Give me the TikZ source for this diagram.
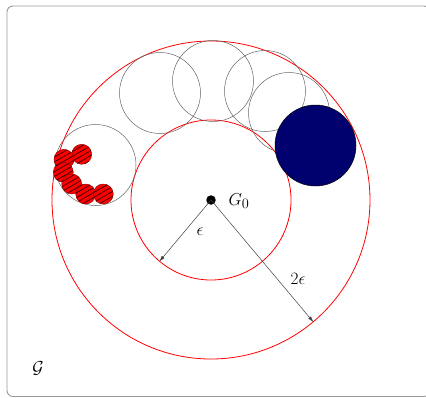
\documentclass[tikz,border=0pt]{standalone}
\usetikzlibrary{arrows.meta,patterns.meta}
\begin{document}
\begin{tikzpicture}[x=1pt,y=-1pt,
  frame/.style={draw=black!40, line width=0.9pt, rounded corners=6pt},
  redring/.style={circle, draw=red, line width=0.8pt, inner sep=0pt},
  graycirc/.style={circle, draw=black!60, line width=0.5pt, inner sep=0pt, minimum size=81pt},
  bluecirc/.style={circle, draw=black, fill={rgb,255:red,0;green,0;blue,110}, line width=0.5pt, inner sep=0pt, minimum size=81pt},
  redball/.style={circle, draw=red!50!black, line width=0.4pt, fill=red, inner sep=0pt, minimum size=20pt,
     postaction={pattern={Lines[angle=30,distance=4.2pt,line width=0.8pt]}, pattern color=black!75!red}},
  dot/.style={circle, fill=black, inner sep=0pt, minimum size=9.5pt},
  radius arrow/.style={draw=black!75, line width=0.5pt, -{Latex[length=6pt,width=3.5pt]}},
  lab/.style={inner sep=0pt, font=\fontsize{19}{22}\selectfont}]
\useasboundingbox (0,0) rectangle (426,397);
\clip (0,0) rectangle (426,397);
\draw[frame] (7,6) rectangle (430,396.5);
% rings
\node[redring, minimum size=318pt] (outer) at (211,200) {};
\node[redring, minimum size=160pt] (inner) at (211,200) {};
% gray circles
\node[graycirc] (c1) at (95.5,165) {};
\node[graycirc] (c2) at (160,93) {};
\node[graycirc] (c3) at (213,81) {};
\node[graycirc] (c4) at (265,91) {};
\node[graycirc] (c5) at (289,113) {};
\node[bluecirc] (blue) at (315.5,145.5) {};
% red balls
\node[redball] (r1) at (81.7,154.3) {};
\node[redball] (r2) at (64,159.3) {};
\node[redball] (r3) at (63.3,172.3) {};
\node[redball] (r4) at (71.7,184) {};
\node[redball] (r5) at (85.7,194) {};
\node[redball] (r6) at (103.3,194) {};
% center
\node[dot] (G0) at (211,200) {};
\draw[radius arrow] (G0.center) -- (inner.-130);
\draw[radius arrow] (G0.center) -- (outer.-50);
\node[lab] (lG0) at (239,201) {$G_0$};
\node[lab] (leps) at (200,232) {$\epsilon$};
\node[lab] (l2eps) at (298,279) {$2\epsilon$};
\node[lab] (lG) at (38,368) {$\mathcal{G}$};
\end{tikzpicture}
\end{document}
